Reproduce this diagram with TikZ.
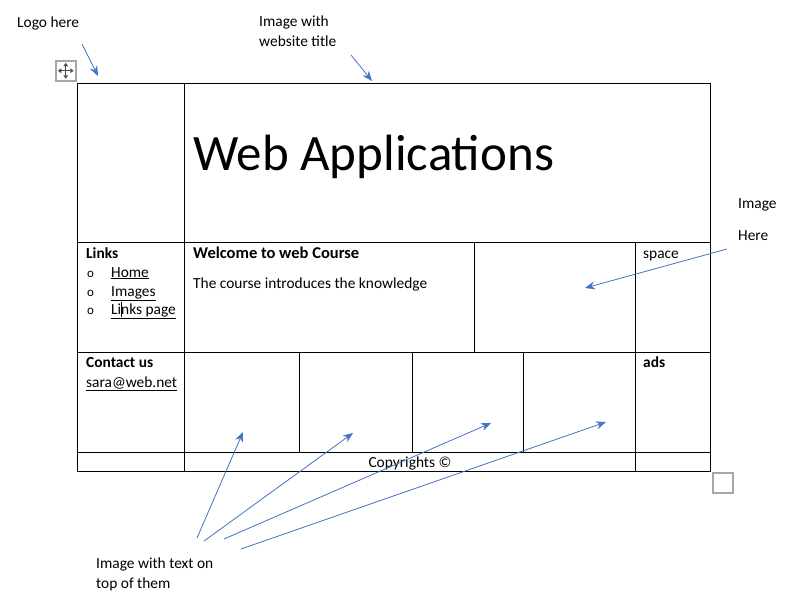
\documentclass[tikz,border=0pt]{standalone}
\usepackage{fontspec}
\setmainfont{Carlito}
\usetikzlibrary{arrows.meta,positioning}
\definecolor{callblue}{HTML}{4472C4}
\definecolor{handlegray}{HTML}{A6A6A6}
\definecolor{icongray}{HTML}{505050}

\begin{document}
\begin{tikzpicture}[x=1pt,y=-1pt,>={Stealth[length=10pt,width=8pt]},
                    every node/.style={font=\fontsize{15.4}{20}\selectfont}]
  \tikzstyle{cell}=[draw=black,line width=0.8pt,anchor=north west,inner sep=0pt]
  \tikzstyle{txt}=[anchor=base west,inner sep=0pt]
  \tikzstyle{callout}=[->,draw=callblue,line width=0.8pt]
  \tikzstyle{handle}=[draw=handlegray,line width=1.5pt,anchor=north west,
                      inner sep=0pt,minimum size=20pt]
  \tikzstyle{movearrow}=[icongray,line width=1pt,
                         {Triangle[length=3.5pt,width=4.5pt]}-{Triangle[length=3.5pt,width=4.5pt]}]

  \useasboundingbox (0,0) rectangle (791,610);

    % table cells
    \node[cell, minimum width=107pt, minimum height=159pt] (logo)    at (77,83)  {};
    \node[cell, minimum width=526pt, minimum height=159pt] (title)   at (184,83) {};
    \node[cell, minimum width=107pt, minimum height=110pt] (links)   at (77,242) {};
    \node[cell, minimum width=290pt, minimum height=110pt] (welcome) at (184,242) {};
    \node[cell, minimum width=161pt, minimum height=110pt] (imgcell) at (474,242) {};
    \node[cell, minimum width=75pt,  minimum height=110pt] (space)   at (635,242) {};
    \node[cell, minimum width=107pt, minimum height=100pt] (contact) at (77,352) {};
    \node[cell, minimum width=115pt, minimum height=100pt] (picA)    at (184,352) {};
    \node[cell, minimum width=113pt, minimum height=100pt] (picB)    at (299,352) {};
    \node[cell, minimum width=111pt, minimum height=100pt] (picC)    at (412,352) {};
    \node[cell, minimum width=112pt, minimum height=100pt] (picD)    at (523,352) {};
    \node[cell, minimum width=75pt,  minimum height=100pt] (ads)     at (635,352) {};
    \node[cell, minimum width=107pt, minimum height=19pt]  (footL)   at (77,452) {};
    \node[cell, minimum width=451pt, minimum height=19pt]  (footC)   at (184,452) {};
    \node[cell, minimum width=75pt,  minimum height=19pt]  (footR)   at (635,452) {};

    % cell texts
    \node[txt, font=\fontsize{51}{60}\selectfont] (webtitle) at (193,170) {Web Applications};
    \node[txt] (linkshead) at (86,258) {\textbf{Links}};
    \node[txt, font=\fontsize{13}{15}\selectfont] (bulA) at (87,277) {o};
    \node[txt, font=\fontsize{13}{15}\selectfont] (bulB) at (87,296) {o};
    \node[txt, font=\fontsize{13}{15}\selectfont] (bulC) at (87,314) {o};
    \node[txt] (home)   at (111,277) {\underline{Home}};
    \node[txt] (images) at (111,296) {\underline{Images}};
    \node[txt] (lpage)  at (111,314) {\underline{Links page}};
    \draw[line width=0.5pt] (121,302) -- (121,317);
    \node[txt, font=\fontsize{16.5}{20}\selectfont] (welcometxt) at (193,258) {\textbf{Welcome to web Course}};
    \node[txt] (coursetxt) at (193,288) {The course introduces the knowledge};
    \node[txt] (spacetxt)  at (643,258) {space};
    \node[txt] (contacthd) at (86,367)  {\textbf{Contact us}};
    \node[txt] (mail)      at (86,387)  {\underline{sara@web.net}};
    \node[txt] (adstxt)    at (643,367) {\textbf{ads}};
    \node[anchor=base,inner sep=0pt] (copytxt) at (410,467) {Copyrights ©};

    % word handles
    \node[handle] (movebox) at (55,60) {};
    \draw[movearrow] ([xshift=-8pt]movebox.center) -- ([xshift=8pt]movebox.center);
    \draw[movearrow] ([yshift=-8pt]movebox.center) -- ([yshift=8pt]movebox.center);
    \node[handle] (sizebox) at (712,472) {};

    % annotations (base = last line)
    \node[txt] (logolbl)  at (17,28)  {Logo here};
    \node[txt, align=left] (titlelbl) at (259,46) {Image with\\website title};
    \node[txt, align=left] (herelbl)  at (738,240) {Image\\[12pt]Here};
    \node[txt, align=left] (piclbl)   at (96,588) {Image with text on\\top of them};

    \coordinate (logotail)  at (82,44);   \coordinate (logotip)  at (98,76);
    \coordinate (titletail) at (351,55);  \coordinate (titletip) at (372,81);
    \coordinate (heretail)  at (727,249); \coordinate (heretip)  at (585,288);
    \coordinate (tailA) at (197,538);     \coordinate (tipA) at (243,432);
    \coordinate (tailB) at (204,541);     \coordinate (tipB) at (353,433);
    \coordinate (tailC) at (224,539);     \coordinate (tipC) at (491,423);
    \coordinate (tailD) at (241,549);     \coordinate (tipD) at (606,422);

  \path (logotail) edge[callout] (logotip)
        (titletail) edge[callout] (titletip)
        (heretail) edge[callout] (heretip)
        (tailA) edge[callout] (tipA)
        (tailB) edge[callout] (tipB)
        (tailC) edge[callout] (tipC)
        (tailD) edge[callout] (tipD);

\end{tikzpicture}
\end{document}
